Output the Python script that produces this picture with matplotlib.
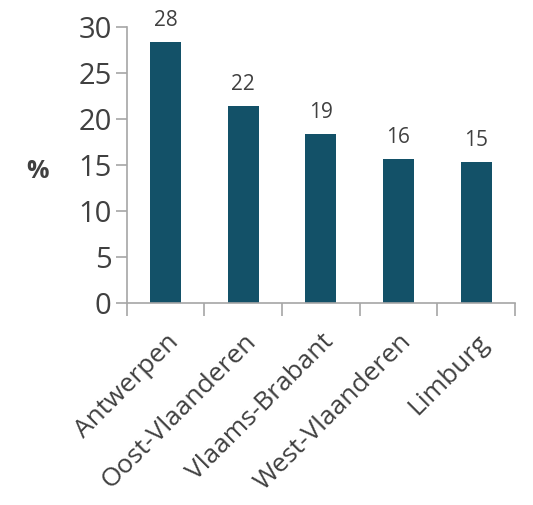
import matplotlib.pyplot as plt
import numpy as np

# Share per province (%)
provinces = ["Antwerpen", "Oost-Vlaanderen", "Vlaams-Brabant", "West-Vlaanderen", "Limburg"]
values = [28.4, 21.4, 18.4, 15.6, 15.3]
value_labels = ["28", "22", "19", "16", "15"]

plt.rcParams['font.family'] = ['Open Sans', 'DejaVu Sans']
text_color = "#404040"
bar_color = "#135168"
axis_color = "#a6a6a6"

fig = plt.figure(figsize=(5.33, 5.05), dpi=100)
ax = fig.add_axes([0.238, 0.4, 0.728, 0.5465])

x = np.arange(len(provinces))
ax.bar(x, values, width=0.4, color=bar_color)

for xi, v, lab in zip(x, values, value_labels):
    ax.annotate(lab, (xi, v), xytext=(0, 8), textcoords="offset points",
                ha="center", va="bottom", fontsize=15, color=text_color)

ax.set_xlim(-0.5, len(provinces) - 0.5)
ax.set_ylim(0, 30)
ax.set_yticks(range(0, 31, 5))
ax.tick_params(axis="y", labelsize=21, colors=axis_color, labelcolor=text_color,
               length=8, width=1.2, pad=3)

# category ticks at boundaries, labels centred on bars
ax.set_xticks(np.arange(-0.5, len(provinces), 1.0))
ax.set_xticklabels([])
ax.tick_params(axis="x", colors=axis_color, length=9, width=1.2)
ax.set_xticks(x, minor=True)
ax.set_xticklabels(provinces, minor=True, rotation=45, ha="right",
                   rotation_mode="anchor", fontsize=19, color=text_color)
ax.tick_params(axis="x", which="minor", length=0, pad=19)

for side in ["top", "right"]:
    ax.spines[side].set_visible(False)
for side in ["left", "bottom"]:
    ax.spines[side].set_color(axis_color)
    ax.spines[side].set_linewidth(1.2)

fig.text(0.07, 0.66, "%", fontsize=18, fontweight="bold", color=text_color,
         ha="center", va="center")

fig.savefig("out.png", dpi=100)
